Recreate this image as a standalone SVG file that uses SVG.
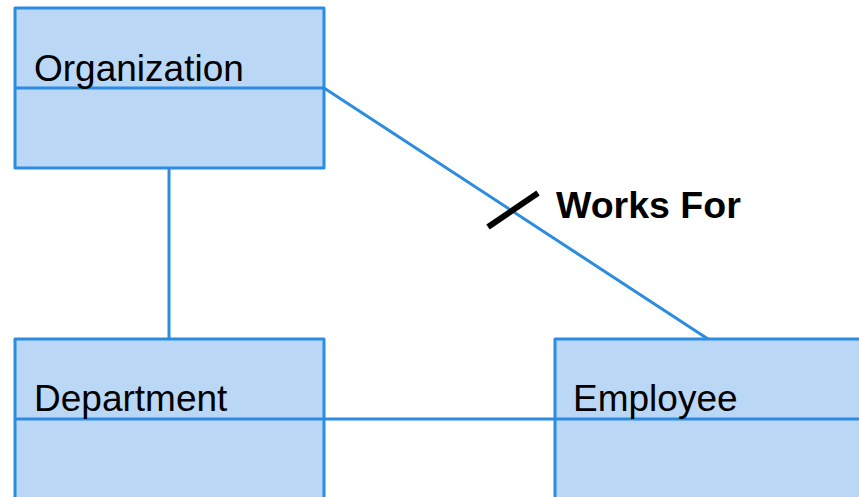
<svg xmlns="http://www.w3.org/2000/svg" width="859" height="497" viewBox="0 0 859 497">
<style>
.box{fill:#bbd7f6;stroke:#2b8ce0;stroke-width:3;stroke-linejoin:round}
.div{stroke:#2b8ce0;stroke-width:3;fill:none}
.conn{stroke:#2b8ce0;stroke-width:3;fill:none}
.lbl{font-family:"Liberation Sans",Arial,sans-serif;font-size:37px;fill:#000}
.rel{font-family:"Liberation Sans",Arial,sans-serif;font-size:37.5px;font-weight:bold;fill:#000}
</style>
<rect width="859" height="497" fill="#ffffff"/>
<g id="connectors">
<line class="conn" x1="169" y1="168" x2="169" y2="339"/>
<line class="conn" x1="324" y1="419" x2="555" y2="419"/>
<line class="conn" x1="324" y1="88" x2="708" y2="339"/>
<line x1="488" y1="227" x2="538" y2="193" stroke="#000" stroke-width="6"/>
<text class="rel" x="556" y="218">Works For</text>
</g>
<g id="organization">
<rect class="box" x="15" y="8" width="309" height="160"/>
<line class="div" x1="15" y1="88" x2="324" y2="88"/>
<text class="lbl" x="34" y="81">Organization</text>
</g>
<g id="department">
<rect class="box" x="15" y="339" width="309" height="170"/>
<line class="div" x1="15" y1="419" x2="324" y2="419"/>
<text class="lbl" x="34" y="411">Department</text>
</g>
<g id="employee">
<rect class="box" x="555" y="339" width="320" height="170"/>
<line class="div" x1="555" y1="419" x2="875" y2="419"/>
<text class="lbl" x="573" y="411">Employee</text>
</g>
</svg>
